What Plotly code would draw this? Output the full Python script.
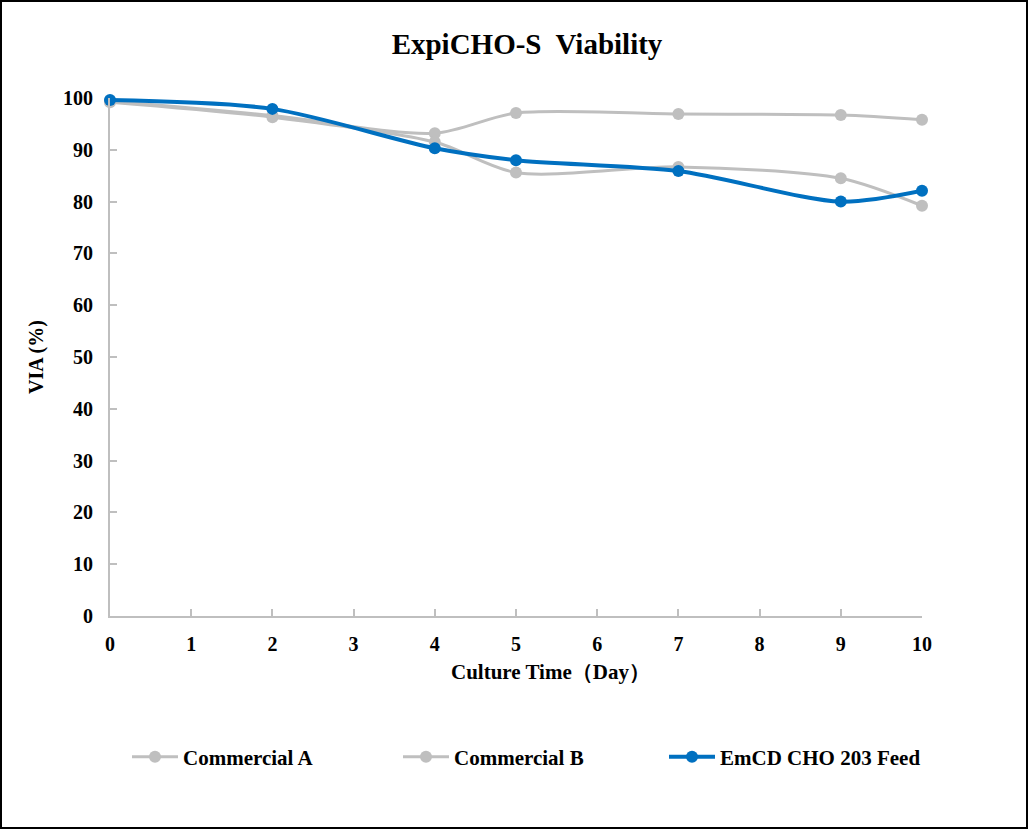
import plotly.graph_objects as go

days = [0, 2, 4, 5, 7, 9, 10]
commercial_a = [99.4, 96.6, 93.2, 97.1, 96.9, 96.7, 95.8]
commercial_b = [99.2, 96.3, 91.5, 85.6, 86.7, 84.5, 79.2]
emcd = [99.6, 97.9, 90.3, 88.0, 85.9, 80.0, 82.1]
series_names = ["Commercial A", "Commercial B", "EmCD CHO 203 Feed"]
x_ticks = list(range(0, 11))
y_ticks = list(range(0, 101, 10))

GRAY = "#BFBFBF"
BLUE = "#0070C0"
FONT = "Liberation Serif"

W, H = 1028, 829
l, r, t, b = 110, 106, 98, 213
pw, ph = W - l - r, H - t - b

legend_px = [133, 404, 670]
legend_ids = ["legend", "legend2", "legend3"]

fig = go.Figure()
for i, (name, vals, col, w) in enumerate([
    (series_names[0], commercial_a, GRAY, 3),
    (series_names[1], commercial_b, GRAY, 3),
    (series_names[2], emcd, BLUE, 4),
]):
    fig.add_trace(go.Scatter(
        x=days, y=vals, name=f"<b>{name}</b>", mode="lines+markers",
        line=dict(color=col, width=w, shape="spline", smoothing=0.8),
        marker=dict(color=col, size=12),
        cliponaxis=False, legend=legend_ids[i],
    ))

legend_common = dict(orientation="h", yanchor="middle", y=(t + ph - 757) / ph,
                     xanchor="left", font=dict(size=21, family=FONT),
                     bgcolor="rgba(0,0,0,0)", itemwidth=46)

fig.update_layout(
    width=W, height=H,
    margin=dict(l=l, r=r, t=t, b=b),
    paper_bgcolor="white", plot_bgcolor="white",
    font=dict(family=FONT, color="black", size=18),
    title=dict(text="<b>ExpiCHO-S  Viability</b>", x=527 / W, xanchor="center", xref="container",
               y=1 - 44 / H, yanchor="middle", font=dict(size=29, family=FONT)),
    xaxis=dict(range=[0, 10], tickvals=x_ticks, ticktext=[f"<b>{v}</b>" for v in x_ticks],
               showgrid=False, zeroline=False, showline=True, linecolor=GRAY, linewidth=2,
               ticks="inside", tickcolor=GRAY, ticklen=7, tickwidth=2,
               tickfont=dict(size=20, family=FONT), ticklabelstandoff=9),
    yaxis=dict(range=[0, 100], tickvals=y_ticks, ticktext=[f"<b>{v}</b>" for v in y_ticks],
               showgrid=False, zeroline=False, showline=True, linecolor=GRAY, linewidth=2,
               ticks="inside", tickcolor=GRAY, ticklen=7, tickwidth=2,
               tickfont=dict(size=20, family=FONT), ticklabelstandoff=11,
               title=dict(text="<b>VIA (%)</b>", font=dict(size=20, family=FONT), standoff=14)),
    showlegend=True,
)
for lid, px in zip(legend_ids, legend_px):
    fig.update_layout({lid: dict(legend_common, x=(px - l - 6) / pw)})

fig.add_annotation(text="<b>Culture Time（Day）</b>", xref="paper", yref="paper",
                   x=(550 - l) / pw, y=(t + ph - 672) / ph, xanchor="center", yanchor="middle",
                   showarrow=False, font=dict(size=21, family=FONT, color="black"))

fig.add_shape(type="rect", xref="paper", yref="paper",
              x0=(1 - l) / pw, x1=(W - 1 - l) / pw,
              y0=-(b - 1) / ph, y1=(ph + t - 1) / ph,
              line=dict(color="black", width=2), fillcolor="rgba(0,0,0,0)", layer="above")

fig.write_html("out.html", config={"displayModeBar": False},
               post_script="document.body.style.margin='0';document.body.style.padding='0';")
